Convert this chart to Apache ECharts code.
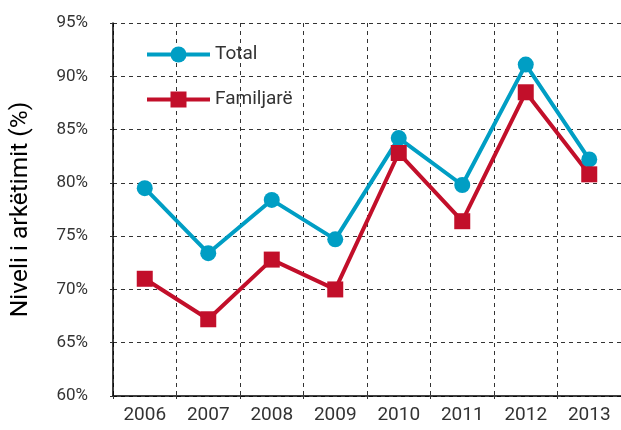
<!DOCTYPE html>
<html>
<head>
<meta charset="utf-8">
<script src="https://cdn.jsdelivr.net/npm/echarts@6/dist/echarts.min.js"></script>
<style>
  html, body { margin: 0; padding: 0; background: #fff; }
  #chart { width: 621px; height: 430px; }
</style>
</head>
<body>
<div id="chart"></div>
<script>
  var years = ['2006', '2007', '2008', '2009', '2010', '2011', '2012', '2013']
  var total = [79.5, 73.4, 78.4, 74.7, 84.2, 79.8, 91.1, 82.2]
  var familjare = [71.0, 67.2, 72.8, 70.0, 82.8, 76.4, 88.5, 80.8]

  var myChart = echarts.init(document.getElementById('chart'))
  var gridLine = { type: [4, 4], color: '#333', width: 1 }
  var option = {
    animation: false,
    textStyle: { fontFamily: 'Roboto' },
    legend: {
      left: 140,
      top: 40,
      orient: 'vertical',
      itemWidth: 63,
      itemHeight: 20,
      itemGap: 26,
      lineStyle: { width: 4 },
      textStyle: { fontSize: 19, color: '#333', fontFamily: 'Roboto' },
      data: ['Total', 'Familjarë']
    },
    grid: {
      left: 109,
      top: 23,
      width: 515,
      height: 373
    },
    xAxis: {
      type: 'category',
      data: years,
      boundaryGap: true,
      axisLine: { lineStyle: { color: '#000', width: 1.5 } },
      axisTick: { show: true, length: 6, lineStyle: { color: '#333', type: [3, 3] } },
      axisLabel: { fontSize: 19, color: '#333', margin: 10 },
      splitLine: { show: true, lineStyle: gridLine }
    },
    yAxis: {
      type: 'value',
      min: 60,
      max: 95,
      interval: 5,
      name: 'Niveli i arkëtimit (%)',
      nameLocation: 'middle',
      nameGap: 80,
      nameTextStyle: { fontSize: 24.5, color: '#000' },
      axisLine: { show: true, lineStyle: { color: '#000', width: 1.5 } },
      axisTick: { show: true, length: 6, lineStyle: { color: '#333', type: [3, 3] } },
      axisLabel: { fontSize: 17, color: '#333', margin: 25, formatter: '{value}%' },
      splitLine: { show: true, lineStyle: gridLine }
    },
    series: [{
      name: 'Total',
      type: 'line',
      data: total,
      symbol: 'circle',
      symbolSize: 16,
      lineStyle: { width: 4, color: '#009EC4' },
      itemStyle: { color: '#009EC4' }
    }, {
      name: 'Familjarë',
      type: 'line',
      data: familjare,
      symbol: 'rect',
      symbolSize: 16,
      lineStyle: { width: 4, color: '#C20F2A' },
      itemStyle: { color: '#C20F2A' }
    }]
  }
  option && myChart.setOption(option)
  window.addEventListener('resize', myChart.resize)
</script>
</body>
</html>
